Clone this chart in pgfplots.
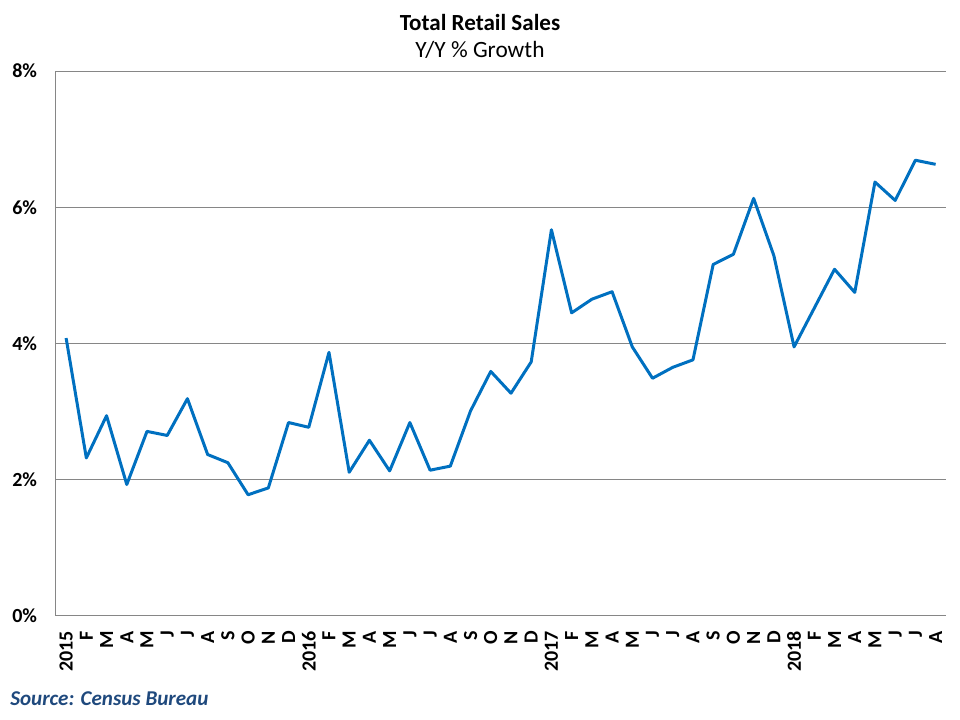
\documentclass[border=0pt]{standalone}
\usepackage{fontspec}
\setmainfont{Carlito}
\usepackage{pgfplots}
\pgfplotsset{compat=1.18}
\definecolor{lineblue}{HTML}{0070C0}
\definecolor{gridgray}{HTML}{868686}
\definecolor{srcblue}{HTML}{1F497D}

\begin{document}
\begin{tikzpicture}
    \useasboundingbox (-42pt,-78pt) rectangle (678pt,462pt);
    \begin{axis}[
        at={(0,0)}, anchor=south west,
        scale only axis,
        width=667.3pt,
        height=408.75pt,
        xmin=-0.5, xmax=43.5,
        ymin=0, ymax=8,
        axis x line*=bottom,
        axis y line*=left,
        axis line style={gridgray, line width=0.75pt, -},
        ymajorgrids,
        major grid style={gridgray, line width=0.75pt},
        major tick length=0pt,
        ytick={0,2,4,6,8},
        yticklabels={0\%,2\%,4\%,6\%,8\%},
        yticklabel style={font=\fontsize{15}{17}\selectfont\bfseries, anchor=east, inner sep=0pt, xshift=-14pt},
        xtick={0,...,43},
        xticklabels={2015,F,M,A,M,J,J,A,S,O,N,D,
                     2016,F,M,A,M,J,J,A,S,O,N,D,
                     2017,F,M,A,M,J,J,A,S,O,N,D,
                     2018,F,M,A,M,J,J,A},
        xticklabel style={font=\fontsize{15}{17}\selectfont\bfseries, rotate=90, anchor=east, inner sep=0pt, inner xsep=11pt},
    ]
    \addplot[lineblue, line width=2.25pt, line join=round, mark=none] coordinates {
        (0,4.08) (1,2.32) (2,2.94) (3,1.93) (4,2.71) (5,2.65)
        (6,3.19) (7,2.37) (8,2.25) (9,1.78) (10,1.88) (11,2.84)
        (12,2.77) (13,3.87) (14,2.11) (15,2.58) (16,2.13) (17,2.84)
        (18,2.14) (19,2.20) (20,3.01) (21,3.59) (22,3.27) (23,3.73)
        (24,5.67) (25,4.45) (26,4.65) (27,4.76) (28,3.95) (29,3.49)
        (30,3.65) (31,3.76) (32,5.16) (33,5.31) (34,6.13) (35,5.29)
        (36,3.95) (37,4.52) (38,5.09) (39,4.75) (40,6.37) (41,6.10)
        (42,6.69) (43,6.63)
    };
    \end{axis}
    % titles and source note
    \node[anchor=base, font=\fontsize{17.3}{19}\selectfont\bfseries] at (318pt,439pt) {Total Retail Sales};
    \node[anchor=base, font=\fontsize{17.5}{19}\selectfont] at (318pt,419pt) {Y/Y \% Growth};
    \node[anchor=base west, inner sep=0pt, text=srcblue, font=\fontsize{15.8}{17}\selectfont\bfseries\itshape] at (-34.5pt,-67.3pt) {Source: Census Bureau};
\end{tikzpicture}
\end{document}
